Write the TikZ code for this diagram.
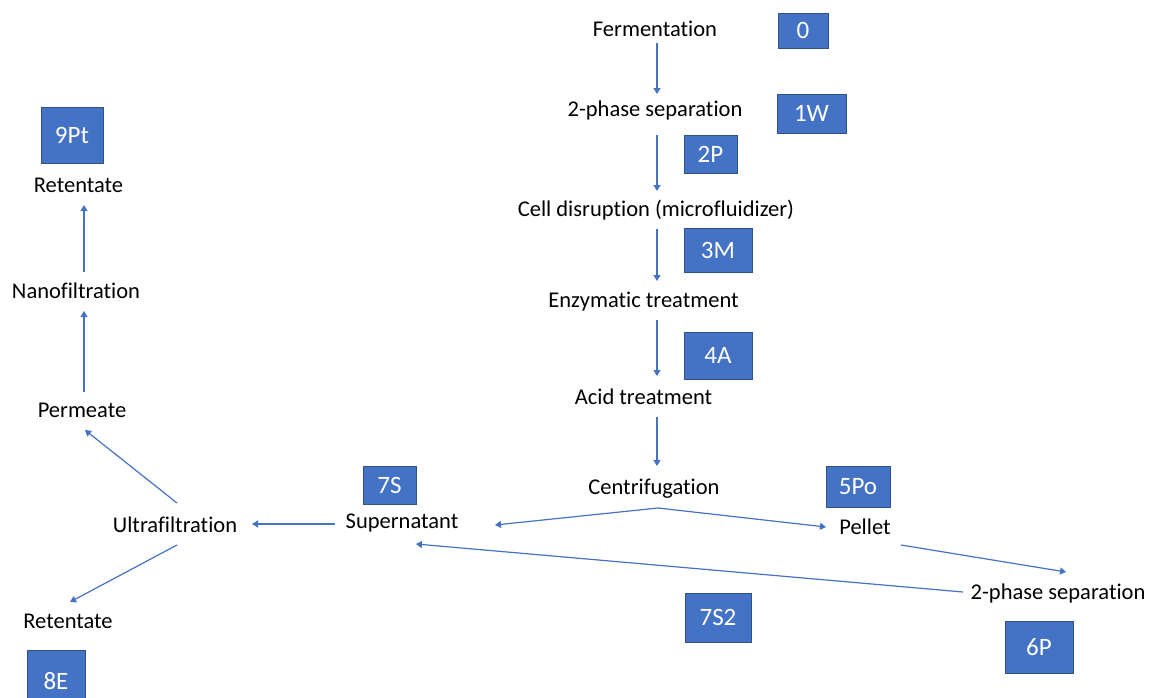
\documentclass[tikz,border=0pt]{standalone}
\usepackage{fontspec}
\setmainfont{Carlito}[RawFeature={-liga}]
\usetikzlibrary{arrows.meta,calc}
\definecolor{pblue}{HTML}{4472C4}
\definecolor{pborder}{HTML}{2F528F}
\tikzset{
  lbl/.style={font=\fontsize{22.5}{27}\selectfont, text=black, inner sep=0pt},
  tag/.style={fill=pblue, draw=pborder, line width=1pt, text=white,
    font=\fontsize{25}{29}\selectfont, inner sep=0pt},
  arr/.style={draw=pblue, line width=1.2pt, -{Triangle[width=7pt,length=6pt]}},
}
\begin{document}
\begin{tikzpicture}[x=1pt,y=-1pt]
\useasboundingbox (0,0) rectangle (1151,697);
% process labels
\node[lbl] (ferm)   at (655,28.5) {Fermentation};
\node[lbl] (sep1)   at (655,110) {2-phase separation};
\node[lbl] (cell)   at (656,210) {Cell disruption (microfluidizer)};
\node[lbl] (enz)    at (643.5,302) {Enzymatic treatment};
\node[lbl] (acid)   at (643.5,397) {Acid treatment};
\node[lbl] (cent)   at (654,489) {Centrifugation};
\node[lbl] (sup)    at (402,523) {Supernatant};
\node[lbl] (ultra)  at (175,525) {Ultrafiltration};
\node[lbl] (pellet) at (865,527) {Pellet};
\node[lbl] (sep2)   at (1058,593) {2-phase separation};
\node[lbl] (ret1)   at (68,621) {Retentate};
\node[lbl] (perm)   at (82,410) {Permeate};
\node[lbl] (nano)   at (76,291) {Nanofiltration};
\node[lbl] (ret2)   at (78.5,185) {Retentate};
% tags
\node[tag, minimum width=50pt, minimum height=35pt] (t0)   at (803,30.5) {0};
\node[tag, minimum width=69pt, minimum height=39pt] (t1W)  at (811.5,113.5) {1W};
\node[tag, minimum width=53pt, minimum height=38pt] (t2P)  at (710.5,154) {2P};
\node[tag, minimum width=68pt, minimum height=44pt] (t3M)  at (718,250) {3M};
\node[tag, minimum width=68pt, minimum height=47pt] (t4A)  at (718,355.5) {4A};
\node[tag, minimum width=62pt, minimum height=56pt] (t9Pt) at (72,135) {9Pt};
\node[tag, minimum width=53pt, minimum height=38pt] (t7S)  at (389.5,485) {7S};
\node[tag, minimum width=58pt, minimum height=62pt] (t8E)  at (56,681) {8E};
\node[tag, minimum width=64pt, minimum height=41pt] (t5Po) at (858,486.5) {5Po};
\node[tag, minimum width=66pt, minimum height=49pt] (t7S2) at (718,617.5) {7S2};
\node[tag, minimum width=68pt, minimum height=52pt] (t6P)  at (1039,647) {6P};
% connectors
\draw[arr] ($(ferm)+(2,14.5)$) -- ($(sep1)+(2,-16)$);
\draw[arr] ($(sep1)+(2,25)$) -- ($(cell)+(1,-19)$);
\draw[arr] ($(cell)+(1,19)$) -- ($(enz)+(13.5,-21)$);
\draw[arr] ($(enz)+(13.5,18)$) -- ($(acid)+(13.5,-21)$);
\draw[arr] ($(acid)+(13.5,20)$) -- ($(cent)+(3,-23)$);
\coordinate (apex) at ($(cent)+(4,19)$);
\draw[arr] (apex) -- ($(sup)+(93,2)$);
\draw[arr] (apex) -- ($(pellet)+(-39,0)$);
\draw[arr] ($(sup)+(-67,1)$) -- ($(ultra)+(77,-1)$);
\draw[arr] ($(sep2)+(-95,-1)$) -- ($(sup)+(14,21)$);
\draw[arr] ($(pellet)+(36,18)$) -- ($(sep2)+(8,-21)$);
\draw[arr] ($(ultra)+(2,-22)$) -- ($(perm)+(3,20)$);
\draw[arr] ($(ultra)+(2,20)$) -- ($(ret1)+(2,-19)$);
\draw[arr] ($(perm)+(2,-18)$) -- ($(nano)+(8,20)$);
\draw[arr] ($(nano)+(8,-19)$) -- ($(ret2)+(5.5,20)$);
\end{tikzpicture}
\end{document}
